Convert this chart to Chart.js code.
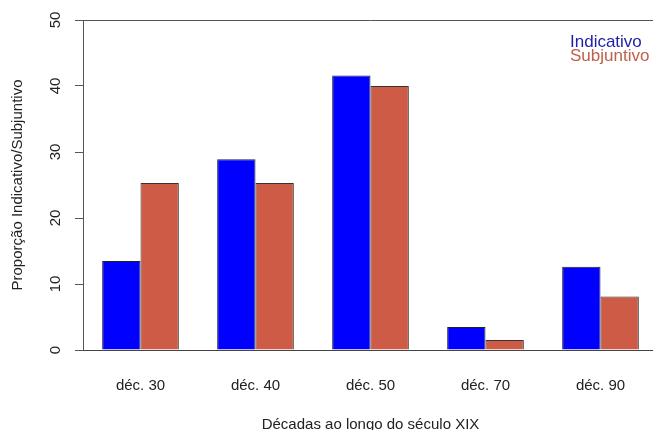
<!DOCTYPE html>
<html>
<head>
<meta charset="utf-8">
<script src="https://cdn.jsdelivr.net/npm/chart.js@4"></script>
<style>
	html, body { margin: 0; padding: 0; background: #fff; overflow: hidden; }
	canvas { display: block; }
</style>
</head>
<body>
<!-- canvas a few px wider than the window: the right edge of the plot box falls outside, as in the reference -->
<canvas id="chart" width="658" height="430"></canvas>
<script>
// Data
const decadas = ['déc. 30', 'déc. 40', 'déc. 50', 'déc. 70', 'déc. 90'];
const indicativo = [13.5, 28.9, 41.6, 3.5, 12.6];
const subjuntivo = [25.3, 25.3, 40.0, 1.5, 8.1];
const yMin = 0, yMax = 50, yStep = 10;

const FONT = "'Liberation Sans', Arial, sans-serif";

// plot box (top edge) + text-only legend, like R's barplot output
const boxAndLegend = {
	id: 'boxAndLegend',
	afterDraw(chart) {
		const { ctx, chartArea: a } = chart;
		ctx.save();
		ctx.strokeStyle = '#555';
		ctx.lineWidth = 1;
		ctx.beginPath();
		ctx.moveTo(a.left, a.top + 0.5);
		ctx.lineTo(a.right, a.top + 0.5);
		ctx.stroke();

		ctx.font = '17px ' + FONT;
		ctx.textAlign = 'left';
		ctx.textBaseline = 'alphabetic';
		ctx.fillStyle = '#1e1ea8';
		ctx.fillText('Indicativo', 570, 47);
		ctx.fillStyle = '#c0604a';
		ctx.fillText('Subjuntivo', 570, 61);
		ctx.restore();
	}
};

new Chart(document.getElementById('chart'), {
	type: 'bar',
	data: {
		labels: decadas,
		datasets: [
			{ label: 'Indicativo', data: indicativo, backgroundColor: '#0000ff', borderColor: '#222', borderWidth: 1 },
			{ label: 'Subjuntivo', data: subjuntivo, backgroundColor: '#cd5b45', borderColor: '#333', borderWidth: 1 }
		]
	},
	options: {
		responsive: false,
		animation: false,
		devicePixelRatio: 1,
		layout: { padding: { top: 20, right: 0, bottom: 0, left: 0 } },
		datasets: { bar: { categoryPercentage: 2 / 3, barPercentage: 1 } },
		plugins: { legend: { display: false }, tooltip: { enabled: false } },
		scales: {
			x: {
				grid: { display: false, drawTicks: false },
				border: { display: true, color: '#444', width: 1 },
				ticks: { color: '#222', font: { family: FONT, size: 15 }, padding: 27, maxRotation: 0 },
				title: {
					display: true,
					text: 'Décadas ao longo do século XIX',
					color: '#222',
					font: { family: FONT, size: 15 },
					padding: { top: 0, bottom: -4 }
				},
				afterFit(scale) { scale.height = 80; }
			},
			y: {
				min: yMin,
				max: yMax,
				grid: { drawOnChartArea: false, drawTicks: true, tickLength: 8, color: '#555' },
				border: { display: true, color: '#555', width: 1 },
				ticks: {
					stepSize: yStep,
					color: '#222',
					font: { family: FONT, size: 15 },
					minRotation: 90,
					maxRotation: 90,
					crossAlign: 'center',
					padding: 11
				},
				title: {
					display: true,
					text: 'Proporção Indicativo/Subjuntivo',
					color: '#222',
					font: { family: FONT, size: 15 },
					padding: { top: 9, bottom: 0 }
				},
				afterFit(scale) { scale.width = 83; }
			}
		}
	},
	plugins: [boxAndLegend]
});
</script>
</body>
</html>
